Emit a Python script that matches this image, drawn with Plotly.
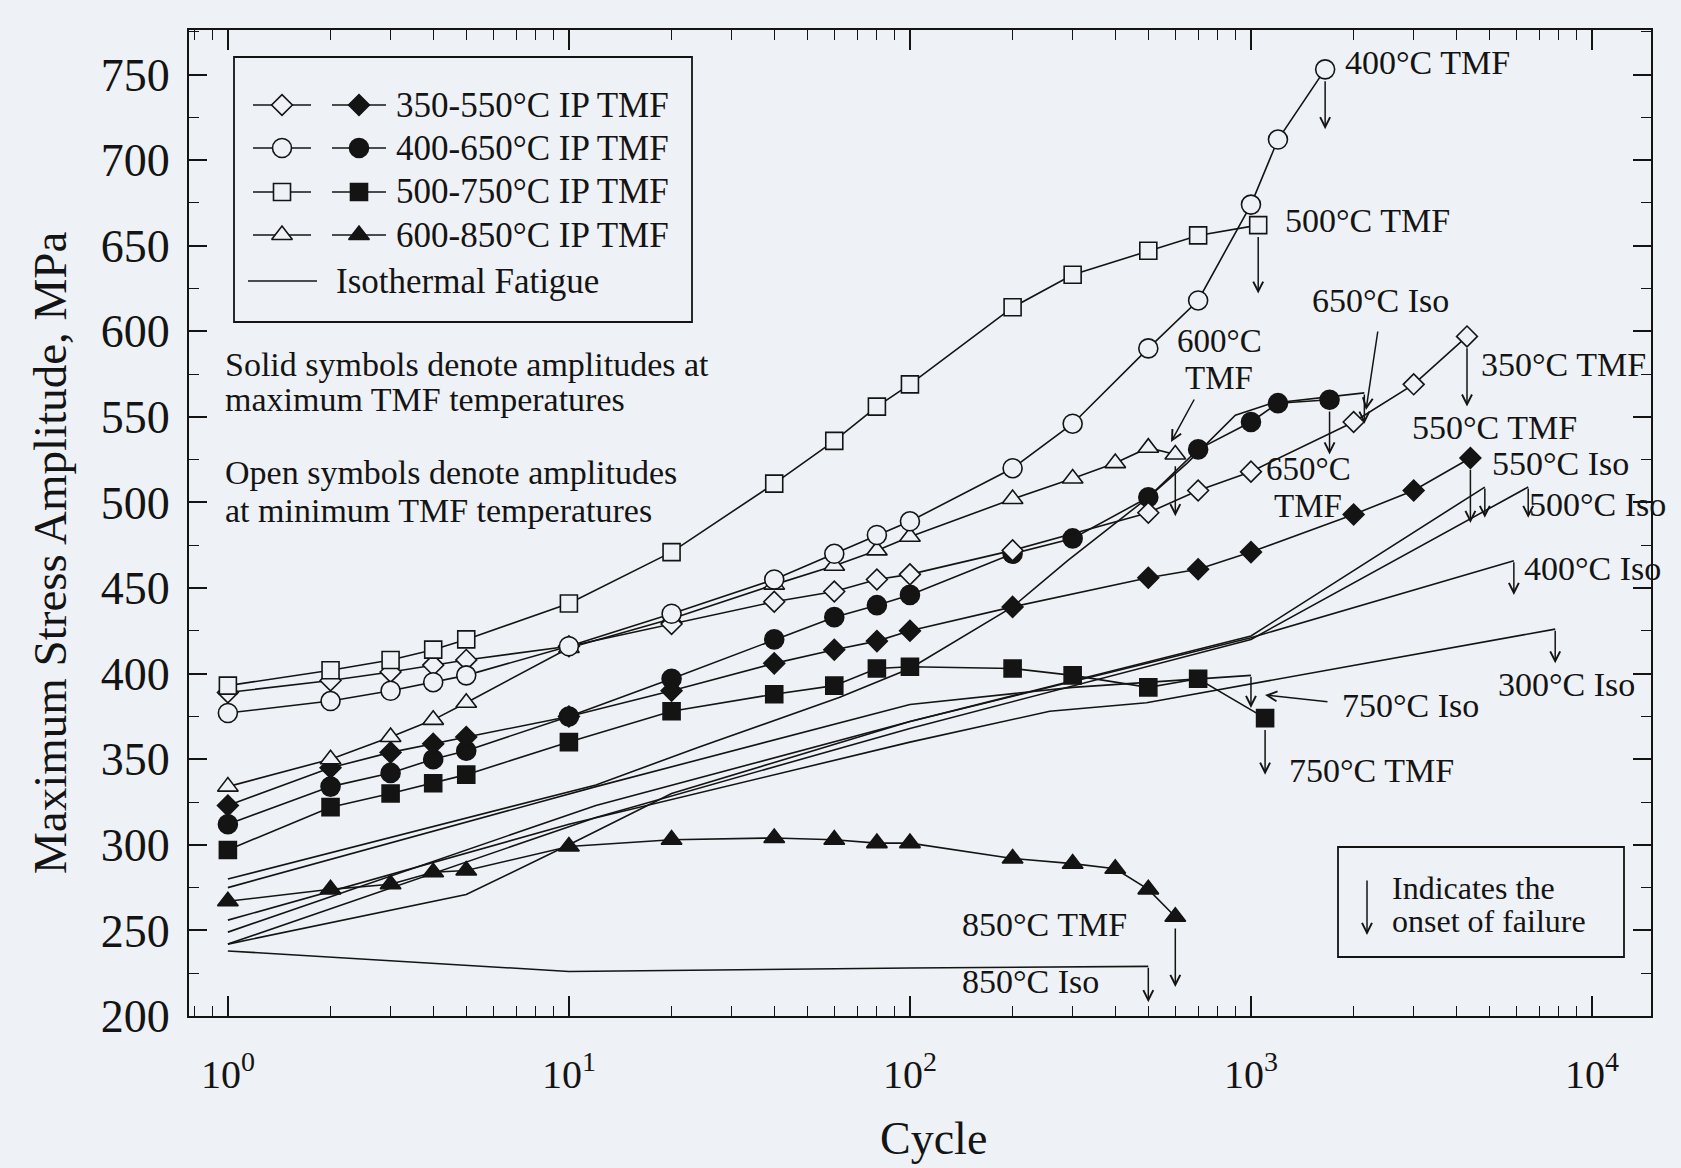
import numpy as np
import plotly.graph_objects as go

# ---------------- data ----------------
# 350-550 C IP TMF
dia_open_x = [1, 2, 3, 4, 5, 10, 20, 40, 60, 80, 100, 200, 500, 700, 1000, 2000, 3000, 4300]
dia_open_y = [389, 396, 401, 405, 408, 416, 429, 442, 448, 455, 458, 472, 494, 507, 518, 547, 569, 597]
dia_solid_x = [1, 2, 3, 4, 5, 10, 20, 40, 60, 80, 100, 200, 500, 700, 1000, 2000, 3000, 4400]
dia_solid_y = [323, 345, 354, 359, 363, 375, 390, 406, 414, 419, 425, 439, 456, 461, 471, 493, 507, 526]
# 400-650 C IP TMF
cir_open_x = [1, 2, 3, 4, 5, 10, 20, 40, 60, 80, 100, 200, 300, 500, 700, 1000, 1200, 1650]
cir_open_y = [377, 384, 390, 395, 399, 416, 435, 455, 470, 481, 489, 520, 546, 590, 618, 674, 712, 753]
cir_solid_x = [1, 2, 3, 4, 5, 10, 20, 40, 60, 80, 100, 200, 300, 500, 700, 1000, 1200, 1700]
cir_solid_y = [312, 334, 342, 350, 355, 375, 397, 420, 433, 440, 446, 470, 479, 503, 531, 547, 558, 560]
# 500-750 C IP TMF
sq_open_x = [1, 2, 3, 4, 5, 10, 20, 40, 60, 80, 100, 200, 300, 500, 700, 1050]
sq_open_y = [393, 402, 408, 414, 420, 441, 471, 511, 536, 556, 569, 614, 633, 647, 656, 662]
sq_solid_x = [1, 2, 3, 4, 5, 10, 20, 40, 60, 80, 100, 200, 300, 500, 700, 1100]
sq_solid_y = [297, 322, 330, 336, 341, 360, 378, 388, 393, 403, 404, 403, 399, 392, 397, 374]
# 600-850 C IP TMF
tri_open_x = [1, 2, 3, 4, 5, 10, 20, 40, 60, 80, 100, 200, 300, 400, 500, 600]
tri_open_y = [334, 350, 363, 373, 383, 415, 432, 452, 463, 472, 480, 502, 514, 523, 532, 528]
tri_solid_x = [1, 2, 3, 4, 5, 10, 20, 40, 60, 80, 100, 200, 300, 400, 500, 600]
tri_solid_y = [267, 274, 277, 284, 285, 299, 303, 304, 303, 301, 301, 292, 289, 286, 274, 258]

# isothermal fatigue curves
iso300_x = [1, 10, 100, 257, 494, 7800]
iso300_y = [256, 312, 360, 378, 383, 426]
iso400_x = [1, 12, 100, 1000, 5900]
iso400_y = [249, 323, 372, 421, 466]
iso500_x = [1, 12, 100, 1000, 6500]
iso500_y = [242, 316, 368, 420, 509]
iso550_x = [1, 5, 10, 20, 100, 1000, 4850]
iso550_y = [242, 271, 300, 330, 372, 422, 509]
iso650_x = [1, 12, 24, 62, 100, 200, 290, 500, 650, 900, 1150, 2150]
iso650_y = [280, 335, 357, 386, 403, 439, 466, 503, 523, 551, 558, 564]
iso750_x = [1, 12, 100, 300, 1000]
iso750_y = [275, 334, 382, 392, 399]
iso850_x = [1, 10, 100, 500]
iso850_y = [238, 226, 228, 229]

# stress level reached by each "onset of failure" arrow tip
tmf_fail_tip = {"dia_open": 556, "dia_solid": 488, "cir_open": 718, "cir_solid": 528,
                "sq_open": 622, "sq_solid": 341, "tri_open": 492, "tri_solid": 217}
iso_fail_tip = {"300": 406, "400": 446, "500": 491, "550": 491, "650": 546, "750": 380, "850": 208}

x_tick_vals = [1, 10, 100, 1000, 10000]
x_tick_text = ["10<sup>0</sup>", "10<sup>1</sup>", "10<sup>2</sup>", "10<sup>3</sup>", "10<sup>4</sup>"]

# ---------------- styling ----------------
BG = "#eef1f5"
INK = "#141414"
FONT = "Liberation Serif, Times New Roman, serif"
W, H = 1681, 1168
L, R, T, B = 189, 1651, 30, 1016


def pp(xp, yp):
    """pixel -> paper coordinates"""
    return (xp - L) / (R - L), (B - yp) / (B - T)


fig = go.Figure()

# isothermal lines
for xs, ys in [(iso300_x, iso300_y), (iso400_x, iso400_y), (iso500_x, iso500_y),
               (iso550_x, iso550_y), (iso650_x, iso650_y), (iso750_x, iso750_y),
               (iso850_x, iso850_y)]:
    fig.add_trace(go.Scatter(x=xs, y=ys, mode="lines",
                             line=dict(color=INK, width=1.6), showlegend=False,
                             hoverinfo="skip"))

series = [
    ("tri_solid", tri_solid_x, tri_solid_y, "triangle-up", 18, True),
    ("sq_solid", sq_solid_x, sq_solid_y, "square", 17, True),
    ("cir_solid", cir_solid_x, cir_solid_y, "circle", 19, True),
    ("dia_solid", dia_solid_x, dia_solid_y, "diamond", 16, True),
    ("tri_open", tri_open_x, tri_open_y, "triangle-up", 18, False),
    ("dia_open", dia_open_x, dia_open_y, "diamond", 16, False),
    ("cir_open", cir_open_x, cir_open_y, "circle", 19, False),
    ("sq_open", sq_open_x, sq_open_y, "square", 17, False),
]
for name, xs, ys, sym, size, solid in series:
    fig.add_trace(go.Scatter(
        x=xs, y=ys, mode="lines+markers",
        line=dict(color=INK, width=1.6),
        marker=dict(symbol=sym, size=size, color=INK if solid else BG,
                    line=dict(color=INK, width=1.6)),
        showlegend=False, hoverinfo="skip"))

annotations = []


def fail_arrow(xe, ye, ytip, start_off=0):
    annotations.append(dict(
        x=np.log10(xe), y=ytip, xref="x", yref="y",
        ax=np.log10(xe), ay=ye - start_off, axref="x", ayref="y",
        showarrow=True, arrowhead=5, arrowsize=1.3, arrowwidth=1.5,
        arrowcolor=INK, text=""))


for name, xs, ys, sym, size, solid in series:
    fail_arrow(xs[-1], ys[-1], tmf_fail_tip[name], start_off=6)

for key, xs, ys in [("300", iso300_x, iso300_y), ("400", iso400_x, iso400_y),
                    ("500", iso500_x, iso500_y), ("550", iso550_x, iso550_y),
                    ("650", iso650_x, iso650_y), ("750", iso750_x, iso750_y),
                    ("850", iso850_x, iso850_y)]:
    fail_arrow(xs[-1], ys[-1], iso_fail_tip[key])

# text labels
def label(text, xp, yp, anchor="left", size=34, align="left"):
    x, y = pp(xp, yp)
    annotations.append(dict(x=x, y=y, xref="paper", yref="paper", text=text,
                            showarrow=False, xanchor=anchor, yanchor="middle",
                            align=align, font=dict(family=FONT, size=size, color=INK)))


label("400°C TMF", 1343, 62)
label("500°C TMF", 1283, 220)
label("650°C Iso", 1310, 300)
label("600°C", 1219, 341, anchor="center", size=33)
label("TMF", 1219, 378, anchor="center", size=33)
label("350°C TMF", 1479, 364)
label("550°C TMF", 1410, 427)
label("650°C", 1308, 469, anchor="center", size=33)
label("TMF", 1308, 506, anchor="center", size=33)
label("550°C Iso", 1490, 464)
label("500°C Iso", 1527, 504)
label("400°C Iso", 1522, 568)
label("300°C Iso", 1496, 684)
label("750°C Iso", 1340, 705)
label("750°C TMF", 1287, 770)
label("850°C TMF", 960, 924)
label("850°C Iso", 960, 981)

label("Solid symbols denote amplitudes at", 223, 364)
label("maximum TMF temperatures", 223, 400)
label("Open symbols denote amplitudes", 223, 472)
label("at minimum TMF temperatures", 223, 510)

# pointer arrows
def pointer(hx, hy, tx, ty):
    x, y = pp(hx, hy)
    annotations.append(dict(x=x, y=y, xref="paper", yref="paper", text="",
                            showarrow=True, ax=tx - hx, ay=ty - hy,
                            arrowhead=5, arrowsize=1.3, arrowwidth=1.5, arrowcolor=INK))


pointer(1366, 410, 1378, 330)   # 650 C Iso
pointer(1171, 442, 1195, 398)   # 600 C TMF
pointer(1265, 695, 1329, 702)   # 750 C Iso
pointer(1367, 935, 1367, 879)   # failure box

# failure box text
label("Indicates the", 1390, 888, size=32)
label("onset of failure", 1390, 921, size=32)

# legend text
legend_rows = [105, 148, 192, 235]
legend_names = ["350-550°C IP TMF", "400-650°C IP TMF", "500-750°C IP TMF", "600-850°C IP TMF"]
for yrow, nm in zip(legend_rows, legend_names):
    label(nm, 394, yrow, size=35)
label("Isothermal Fatigue", 334, 281, size=35)

# axis titles
tx, ty = pp(933, 1138)
annotations.append(dict(x=tx, y=ty, xref="paper", yref="paper", text="Cycle",
                        showarrow=False, xanchor="center", yanchor="middle",
                        font=dict(family=FONT, size=46, color=INK)))
tx, ty = pp(50, 553)
annotations.append(dict(x=tx, y=ty, xref="paper", yref="paper",
                        text="Maximum Stress Amplitude, MPa", textangle=-90,
                        showarrow=False, xanchor="center", yanchor="middle",
                        font=dict(family=FONT, size=47, color=INK)))

# legend symbols (drawn on an overlay axis in plot-area fractions)
leg_syms = [("diamond", 16), ("circle", 19), ("square", 17), ("triangle-up", 18)]
for yrow, (sym, size) in zip(legend_rows, leg_syms):
    for (x0, x1, xc, solid) in [(253, 311, 282, False), (332, 386, 359, True)]:
        a0 = pp(x0, yrow)
        a1 = pp(x1, yrow)
        ac = pp(xc, yrow)
        fig.add_trace(go.Scatter(x=[a0[0], a1[0]], y=[a0[1], a1[1]], mode="lines",
                                 line=dict(color=INK, width=1.6), xaxis="x2", yaxis="y2",
                                 showlegend=False, hoverinfo="skip"))
        fig.add_trace(go.Scatter(x=[ac[0]], y=[ac[1]], mode="markers",
                                 marker=dict(symbol=sym, size=size, color=INK if solid else BG,
                                             line=dict(color=INK, width=1.6)),
                                 xaxis="x2", yaxis="y2", showlegend=False, hoverinfo="skip"))
a0 = pp(248, 281)
a1 = pp(317, 281)
fig.add_trace(go.Scatter(x=[a0[0], a1[0]], y=[a0[1], a1[1]], mode="lines",
                         line=dict(color=INK, width=1.6), xaxis="x2", yaxis="y2",
                         showlegend=False, hoverinfo="skip"))

shapes = []
for (x0, y0, x1, y1) in [(234, 57, 692, 322), (1338, 847, 1624, 957)]:
    p0 = pp(x0, y0)
    p1 = pp(x1, y1)
    shapes.append(dict(type="rect", xref="paper", yref="paper",
                       x0=p0[0], y0=p0[1], x1=p1[0], y1=p1[1],
                       line=dict(color=INK, width=1.8), fillcolor="rgba(0,0,0,0)"))

minor_x = [m * 10 ** k for k in range(-1, 4) for m in range(2, 10)]
minor_x = [v for v in minor_x if 0.77 < v < 14900]

fig.update_layout(
    width=W, height=H,
    margin=dict(l=L, r=W - R, t=T, b=H - B, autoexpand=False),
    paper_bgcolor=BG, plot_bgcolor=BG,
    font=dict(family=FONT, color=INK),
    showlegend=False,
    annotations=annotations,
    shapes=shapes,
    xaxis=dict(type="log", range=[-0.114, 4.173], tickvals=x_tick_vals, ticktext=x_tick_text,
               ticks="inside", ticklen=20, tickwidth=1.6, tickcolor=INK,
               showline=True, linewidth=2, linecolor=INK, mirror="ticks",
               showgrid=False, zeroline=False, automargin=False,
               tickfont=dict(family=FONT, size=40, color=INK), ticklabelstandoff=22,
               minor=dict(tickvals=minor_x, ticks="inside", ticklen=10, tickwidth=1.3,
                          tickcolor=INK, showgrid=False)),
    yaxis=dict(range=[200, 776], tick0=200, dtick=50,
               ticks="inside", ticklen=18, tickwidth=1.6, tickcolor=INK,
               showline=True, linewidth=2, linecolor=INK, mirror="ticks",
               showgrid=False, zeroline=False, automargin=False,
               tickfont=dict(family=FONT, size=46, color=INK), ticklabelstandoff=8,
               minor=dict(dtick=25, tick0=200, ticks="inside", ticklen=10, tickwidth=1.3,
                          tickcolor=INK, showgrid=False)),
    xaxis2=dict(overlaying="x", range=[0, 1], visible=False, fixedrange=True),
    yaxis2=dict(overlaying="y", range=[0, 1], visible=False, fixedrange=True),
)

fig.write_html("out.html", config={"displayModeBar": False},
               post_script="document.body.style.margin='0';document.body.style.background='%s';" % BG)
